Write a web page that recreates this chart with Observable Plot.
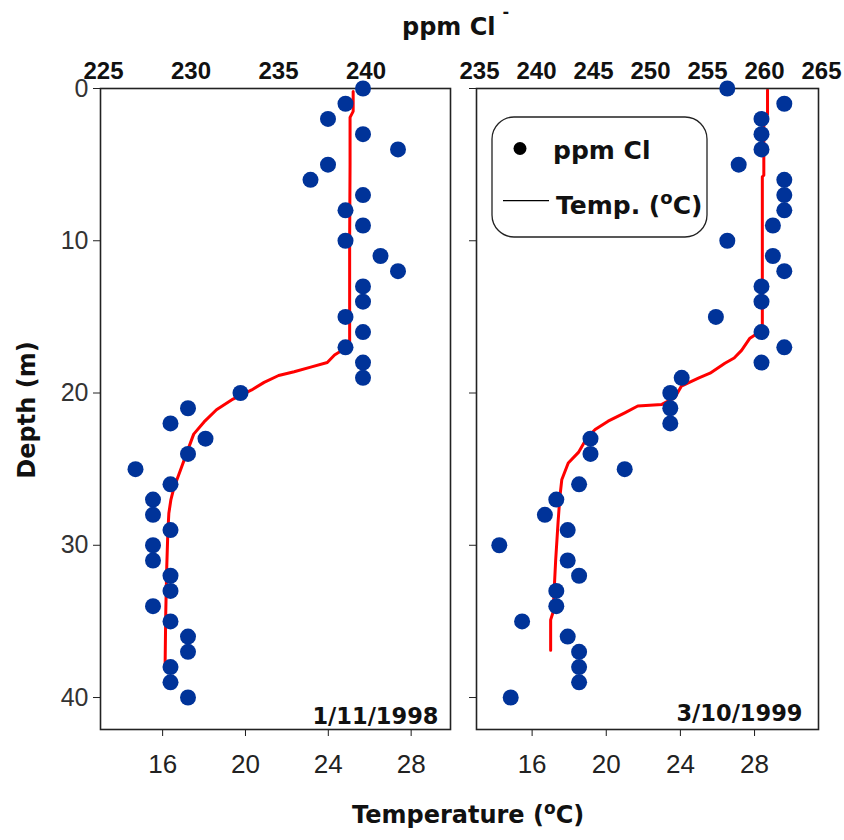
<!DOCTYPE html>
<html>
<head>
<meta charset="utf-8">
<script src="https://cdn.jsdelivr.net/npm/d3@7"></script>
<script src="https://cdn.jsdelivr.net/npm/@observablehq/plot@0.6"></script>
<style>
  html, body { margin: 0; padding: 0; background: #fff; overflow: hidden; }
  #wrap { position: relative; width: 844px; height: 840px; background: #fff; }
  #wrap svg { position: absolute; left: 0; top: 0; max-width: none; }
</style>
</head>
<body>
<div id="wrap"></div>
<script>
// ---------- data ----------
const depthM = [0,1,2,3,4,5,6,7,8,9,10,11,12,13,14,15,16,17,18,19,20,21,22,23,24,25,26,27,28,29,30,31,32,33,34,35,36,37,38,39,40];
const cl1998 = [240,239,238,240,242,238,237,240,239,240,239,241,242,240,240,239,240,239,240,240,233,230,229,231,230,227,229,228,228,229,228,228,229,229,228,229,230,230,229,229,230];
const cl1999 = [257,262,260,260,260,258,262,262,262,261,257,261,262,260,260,256,260,262,260,253,252,252,252,245,245,248,244,242,241,243,237,243,244,242,242,239,243,244,244,244,238];

const tempDepth1998 = [0.2,1.5,1.9,5,10,16.6,17.0,17.5,18.0,18.3,18.6,18.85,19.3,19.8,20.4,21.1,21.9,22.7,23.8,25.1,26.2,27.0,27.9,29.2,31.4,34.5,37.8];
const temp1998      = [25.2,25.2,25.05,25.05,25.03,25.03,24.9,24.3,23.95,23.15,22.35,21.6,20.9,20.3,19.4,18.6,18.0,17.5,17.2,16.85,16.55,16.4,16.3,16.25,16.2,16.15,16.12];

const tempDepth1999 = [0.1,1.7,1.8,5.7,5.8,15.9,16.2,16.4,17.2,17.7,18.05,18.7,19.0,19.55,20.3,20.75,20.85,21.3,21.85,22.4,22.95,23.9,24.6,25.7,26.8,28.5,31.0,34.4,34.9,36.9];
const temp1999      = [28.7,28.7,28.5,28.5,28.42,28.42,28.0,27.75,27.3,26.9,26.4,25.6,25.0,24.05,23.7,23.0,21.7,21.0,20.1,19.4,18.95,18.5,17.95,17.6,17.5,17.4,17.27,17.13,17.0,17.0];

const clTicks1998 = [225,230,235,240];
const clTicks1999 = [235,240,245,250,255,260,265];
const tempTicks = [16,20,24,28];
const depthTicks = [0,10,20,30,40];
const dates = ["1/11/1998","3/10/1999"];

// ---------- layout ----------
const W = 844, H = 840, TOP = 88, BOTTOM = 729;
const BLUE = "#003399", RED = "#ff0000", INK = "#1a1a1a";
const THIN = "'Liberation Sans', Arial, sans-serif";
const ARIAL = "'Liberation Sans', Arial, sans-serif";
const VERD = "'DejaVu Sans', Verdana, sans-serif";

const panels = [
  {left: 100, right: 450, cl: cl1998, clDomain: [225,245], clTicks: clTicks1998,
   tDomain: [13,29.9], tDepth: tempDepth1998, temp: temp1998, date: dates[0], dateDx: -12, dateDy: -6, yLabels: true},
  {left: 476, right: 818, cl: cl1999, clDomain: [235,265], clTicks: clTicks1999,
   tDomain: [13,31.45], tDepth: tempDepth1999, temp: temp1999, date: dates[1], dateDx: -16, dateDy: -9, yLabels: false}
];

function base(p) {
  return {
    width: W, height: H,
    marginLeft: p.left, marginRight: W - p.right, marginTop: TOP, marginBottom: H - BOTTOM,
    style: {background: "transparent", overflow: "visible", color: INK},
    y: {domain: [0, 42.1], reverse: true, axis: null}
  };
}

const wrap = document.getElementById("wrap");
const lineSvgs = [], dotSvgs = [];

for (const p of panels) {
  const clRows = depthM.map((d, i) => ({depth: d, cl: p.cl[i]}));
  const tRows = p.tDepth.map((d, i) => ({depth: d, temp: p.temp[i]}));

  // temperature line + bottom axis
  lineSvgs.push(Plot.plot({
    ...base(p),
    x: {domain: p.tDomain, axis: null},
    marks: [
      Plot.axisX({anchor: "bottom", ticks: tempTicks, tickSize: 7, tickPadding: 18, label: null,
                  fontFamily: THIN, fontSize: 26, stroke: INK, fill: "#222"}),
      Plot.line(tRows, {x: "temp", y: "depth", stroke: RED, strokeWidth: 3, curve: "linear"})
    ]
  }));

  // chloride dots + top axis + frame + depth axis
  dotSvgs.push(Plot.plot({
    ...base(p),
    x: {domain: p.clDomain, axis: null},
    marks: [
      Plot.frame({stroke: "#222", strokeWidth: 1.6}),
      Plot.axisX({anchor: "top", ticks: p.clTicks, tickSize: 0, tickPadding: 10, dx: 3, label: null,
                  fontFamily: ARIAL, fontWeight: "bold", fontSize: 24, fill: "#111"}),
      Plot.axisY({anchor: "left", ticks: depthTicks, tickSize: 7, tickPadding: 5, label: null,
                  tickFormat: p.yLabels ? (d => String(d)) : (() => ""),
                  fontFamily: THIN, fontSize: 25, fill: "#333", stroke: "#222"}),
      Plot.dot(clRows, {x: "cl", y: "depth", r: 8, fill: BLUE}),
      Plot.text([p.date], {text: d => d, frameAnchor: "bottom-right", textAnchor: "end", lineAnchor: "bottom",
                           dx: p.dateDx, dy: p.dateDy, fontFamily: VERD, fontWeight: "bold", fontSize: 22.5, fill: "#111"})
    ]
  }));
}

for (const s of lineSvgs) wrap.appendChild(s);
for (const s of dotSvgs) wrap.appendChild(s);

// ---------- titles and legend ----------
const ann = d3.create("svg")
  .attr("width", W).attr("height", H).attr("viewBox", `0 0 ${W} ${H}`)
  .style("font-family", VERD).style("font-weight", "bold").attr("fill", "#111");

const t1 = ann.append("text").attr("x", 402).attr("y", 35).attr("font-size", 24);
t1.append("tspan").text("ppm Cl");
t1.append("tspan").attr("dx", 7).attr("dy", -18).attr("font-size", 16).text("-");

const t2 = ann.append("text").attr("x", 352).attr("y", 823).attr("font-size", 24);
t2.append("tspan").text("Temperature (");
t2.append("tspan").attr("dy", -9).attr("font-size", 17).text("o");
t2.append("tspan").attr("dy", 9).text("C)");

ann.append("text").attr("transform", "translate(35,410) rotate(-90)").attr("text-anchor", "middle")
  .attr("font-size", 24).text("Depth (m)");

const lg = ann.append("g");
lg.append("rect").attr("x", 492).attr("y", 117).attr("width", 215).attr("height", 120).attr("rx", 22)
  .attr("fill", "none").attr("stroke", "#222").attr("stroke-width", 1.3);
lg.append("circle").attr("cx", 520).attr("cy", 148.5).attr("r", 6.5).attr("fill", "#000");
lg.append("text").attr("x", 553).attr("y", 159).attr("font-size", 25).text("ppm Cl");
lg.append("line").attr("x1", 503).attr("x2", 549).attr("y1", 200.7).attr("y2", 200.7)
  .attr("stroke", "#000").attr("stroke-width", 1.3);
const t3 = lg.append("text").attr("x", 556).attr("y", 214).attr("font-size", 25);
t3.append("tspan").text("Temp. (");
t3.append("tspan").attr("dy", -10).attr("font-size", 18).text("o");
t3.append("tspan").attr("dy", 10).text("C)");

wrap.appendChild(ann.node());
</script>
</body>
</html>
